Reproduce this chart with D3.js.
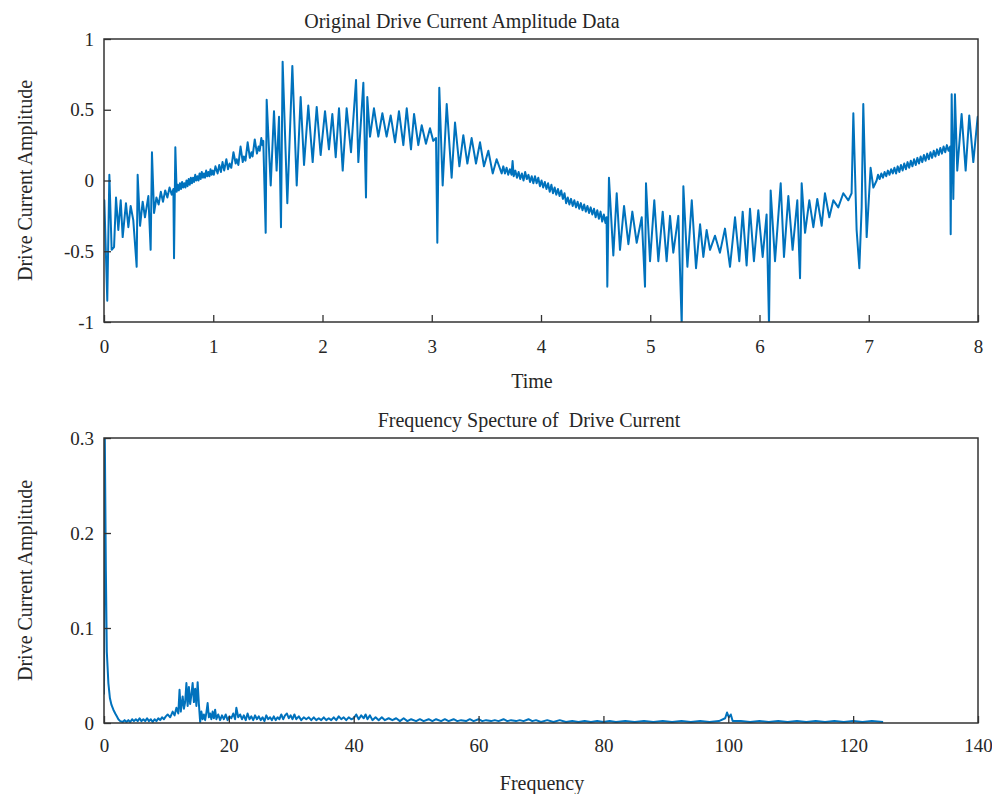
<!DOCTYPE html>
<html lang="en">
<head>
<meta charset="UTF-8">
<title>Drive Current Amplitude</title>
<script src="https://cdnjs.cloudflare.com/ajax/libs/d3/7.8.5/d3.min.js"></script>
<style>
    body { margin: 0; background: #fff; }
    svg text { font-family: "Liberation Serif", "DejaVu Serif", serif; fill: #262626; }
</style>
</head>
<body>
<svg id="chart" width="992" height="794"></svg>
<script>
// time, amplitude pairs
const timeSignal = [
    [0,-0.14],[0.003,-0.14],[0.03,-0.85],[0.049,0.04],[0.07,-0.49],[0.092,-0.47],[0.11,-0.12],[0.131,-0.35],
    [0.153,-0.14],[0.171,-0.40],[0.201,-0.16],[0.223,-0.33],[0.244,-0.18],[0.268,-0.28],[0.299,-0.61],[0.308,0.04],
    [0.33,-0.32],[0.354,-0.15],[0.375,-0.26],[0.406,-0.11],[0.427,-0.49],[0.439,0.20],[0.458,-0.23],[0.48,-0.12],
    [0.50,-0.17],[0.52,-0.08],[0.54,-0.15],[0.56,-0.07],[0.58,-0.12],[0.60,-0.05],[0.62,-0.10],[0.635,-0.06],
    [0.641,-0.55],[0.653,0.235],[0.665,-0.08],[0.675,-0.03],[0.685,-0.07],[0.695,-0.02],[0.705,-0.06],[0.715,-0.01],
    [0.725,-0.05],[0.735,-0.02],[0.745,-0.05],[0.755,0.00],[0.765,-0.04],[0.775,0.01],[0.785,-0.03],[0.795,0.02],
    [0.805,-0.02],[0.815,0.02],[0.825,-0.01],[0.835,0.04],[0.845,0.00],[0.855,0.03],[0.865,0.00],[0.875,0.05],
    [0.885,0.01],[0.895,0.06],[0.905,0.02],[0.915,0.05],[0.925,0.02],[0.935,0.07],[0.945,0.03],[0.955,0.06],
    [0.965,0.03],[0.975,0.08],[0.985,0.04],[0.995,0.07],[1.005,0.04],[1.02,0.10],[1.04,0.05],[1.055,0.11],
    [1.07,0.06],[1.085,0.13],[1.10,0.07],[1.12,0.15],[1.135,0.08],[1.15,0.12],[1.165,0.09],[1.185,0.20],
    [1.205,0.12],[1.215,0.15],[1.23,0.11],[1.25,0.24],[1.27,0.13],[1.28,0.17],[1.295,0.14],[1.315,0.27],
    [1.335,0.16],[1.35,0.20],[1.36,0.17],[1.38,0.29],[1.40,0.19],[1.415,0.24],[1.425,0.21],[1.44,0.30],
    [1.45,0.25],[1.458,0.28],[1.48,-0.37],[1.489,0.57],[1.526,-0.035],[1.556,0.49],[1.58,0.07],
    [1.602,0.45],[1.62,-0.33],[1.635,0.84],[1.678,-0.16],[1.724,0.81],[1.764,-0.035],[1.80,0.59],[1.831,0.11],
    [1.870,0.53],[1.910,0.13],[1.947,0.52],[1.983,0.18],[2.023,0.49],[2.059,0.22],[2.090,0.47],[2.121,0.165],
    [2.151,0.51],[2.185,0.07],[2.221,0.51],[2.261,0.20],[2.307,0.71],[2.328,0.13],[2.374,0.69],[2.398,-0.12],
    [2.410,0.59],[2.435,0.31],[2.471,0.51],[2.511,0.31],[2.548,0.475],[2.587,0.31],[2.624,0.46],[2.664,0.27],
    [2.700,0.49],[2.740,0.25],[2.771,0.51],[2.810,0.22],[2.838,0.47],[2.877,0.25],[2.908,0.39],[2.947,0.26],
    [2.984,0.37],[3.014,0.28],[3.039,0.30],[3.051,-0.44],[3.069,0.655],[3.100,-0.035],[3.137,0.54],[3.182,0.02],
    [3.213,0.41],[3.253,0.10],[3.289,0.32],[3.326,0.12],[3.365,0.30],[3.405,0.12],[3.442,0.27],[3.478,0.10],
    [3.518,0.21],[3.558,0.05],[3.594,0.15],[3.640,0.05],[3.655,0.10],[3.67,0.05],[3.685,0.09],[3.70,0.04],
    [3.715,0.08],[3.73,0.04],[3.74,0.137],[3.75,0.03],[3.765,0.07],[3.78,0.02],[3.795,0.06],[3.81,0.01],
    [3.825,0.05],[3.84,0.00],[3.855,0.06],[3.87,0.01],[3.885,0.04],[3.90,-0.01],[3.915,0.03],[3.93,-0.02],
    [3.945,0.03],[3.96,-0.02],[3.975,0.02],[3.99,-0.04],[4.005,0.00],[4.02,-0.05],[4.035,-0.01],[4.05,-0.06],
    [4.065,-0.02],[4.08,-0.08],[4.095,-0.03],[4.11,-0.09],[4.125,-0.05],[4.14,-0.10],[4.155,-0.06],[4.17,-0.11],
    [4.185,-0.07],[4.20,-0.13],[4.215,-0.09],[4.23,-0.16],[4.245,-0.12],[4.26,-0.17],[4.275,-0.13],[4.29,-0.18],
    [4.305,-0.14],[4.32,-0.19],[4.335,-0.15],[4.35,-0.20],[4.365,-0.16],[4.38,-0.21],[4.395,-0.17],[4.41,-0.22],
    [4.425,-0.18],[4.44,-0.23],[4.455,-0.19],[4.47,-0.24],[4.485,-0.20],[4.50,-0.26],[4.515,-0.21],[4.53,-0.27],
    [4.545,-0.22],[4.56,-0.29],[4.575,-0.24],[4.59,-0.30],[4.60,-0.26],[4.607,-0.75],
    [4.622,0.02],[4.662,-0.53],[4.693,-0.09],[4.723,-0.49],[4.760,-0.18],[4.800,-0.45],[4.836,-0.22],[4.876,-0.44],
    [4.922,-0.26],[4.952,-0.75],[4.961,-0.02],[4.998,-0.57],[5.037,-0.14],[5.074,-0.57],[5.114,-0.22],[5.150,-0.57],
    [5.181,-0.25],[5.211,-0.51],[5.257,-0.25],[5.288,-1.02],[5.303,-0.04],[5.340,-0.61],[5.380,-0.14],[5.419,-0.62],
    [5.456,-0.31],[5.486,-0.54],[5.516,-0.35],[5.547,-0.49],[5.593,-0.39],[5.638,-0.51],[5.684,-0.34],[5.730,-0.61],
    [5.776,-0.26],[5.815,-0.57],[5.846,-0.22],[5.882,-0.60],[5.913,-0.20],[5.949,-0.57],[5.989,-0.21],[6.029,-0.54],
    [6.065,-0.24],[6.087,-1.02],[6.102,-0.07],[6.142,-0.57],[6.194,-0.02],[6.224,-0.54],[6.264,-0.11],[6.303,-0.49],
    [6.346,-0.14],[6.371,-0.69],[6.386,-0.02],[6.417,-0.37],[6.456,-0.14],[6.493,-0.33],[6.529,-0.13],[6.569,-0.32],
    [6.599,-0.09],[6.639,-0.26],[6.676,-0.14],[6.721,-0.19],[6.767,-0.09],[6.813,-0.14],[6.843,-0.09],[6.859,0.475],
    [6.889,-0.35],[6.914,-0.62],[6.935,-0.19],[6.950,0.54],[6.981,-0.40],[7.017,0.09],[7.042,-0.05],[7.072,0.00],
    [7.085,0.04],[7.10,0.01],[7.115,0.05],[7.13,0.02],[7.145,0.06],[7.16,0.03],[7.175,0.07],[7.19,0.04],
    [7.205,0.08],[7.22,0.05],[7.235,0.09],[7.25,0.05],[7.265,0.10],[7.28,0.06],[7.295,0.11],[7.31,0.07],
    [7.325,0.12],[7.34,0.08],[7.355,0.13],[7.37,0.09],[7.385,0.14],[7.40,0.10],[7.415,0.15],[7.43,0.11],
    [7.445,0.16],[7.46,0.12],[7.475,0.17],[7.49,0.13],[7.505,0.18],[7.52,0.14],[7.535,0.19],[7.55,0.15],
    [7.565,0.20],[7.58,0.16],[7.595,0.21],[7.61,0.17],[7.625,0.22],[7.64,0.18],[7.655,0.23],[7.67,0.19],
    [7.685,0.24],[7.70,0.20],[7.715,0.25],[7.73,0.21],[7.745,0.24],[7.750,-0.38],
    [7.759,0.61],[7.774,-0.13],[7.789,0.61],[7.810,0.07],[7.850,0.47],[7.887,0.07],[7.920,0.46],[7.957,0.13],
    [7.997,0.45],[8.0,0.40]
];

// frequency, amplitude pairs
const freqSpectrum = [
    [0,0.03],[0.12,0.31],[0.3,0.16],[0.45,0.075],[0.7,0.042],[0.95,0.026],[1.2,0.019],[1.5,0.014],[1.8,0.010],
    [2.05,0.007],[2.3,0.004],[2.6,0.002],[3.0,0.001],[3.3,0.003],[3.6,0.001],[3.9,0.003],[4.2,0.001],[4.5,0.004],
    [4.8,0.002],[5.1,0.004],[5.4,0.002],[5.7,0.005],[6.0,0.002],[6.3,0.004],[6.6,0.002],[6.9,0.005],[7.2,0.002],
    [7.5,0.004],[7.8,0.001],[8.1,0.004],[8.4,0.002],[8.7,0.005],[9.0,0.003],[9.3,0.006],[9.6,0.004],[9.9,0.007],
    [10.2,0.009],[10.6,0.006],[11.0,0.012],[11.3,0.008],[11.6,0.016],[11.9,0.010],
    [12.1,0.035],[12.3,0.012],[12.6,0.028],[12.8,0.015],[13.0,0.022],[13.2,0.042],[13.4,0.018],[13.6,0.038],[13.8,0.020],
    [14.0,0.030],[14.2,0.042],[14.4,0.022],[14.6,0.036],[14.8,0.018],[15.0,0.043],[15.2,0.020],[15.4,0.001],[15.6,0.012],
    [15.8,0.004],[16.0,0.009],[16.2,0.003],[16.4,0.011],[16.6,0.021],[16.8,0.006],[17.0,0.010],[17.2,0.004],[17.4,0.012],
    [17.6,0.005],[17.8,0.014],[18.0,0.004],[18.3,0.009],[18.6,0.003],[18.9,0.008],[19.2,0.004],[19.5,0.009],[19.8,0.003],
    [20.1,0.007],[20.4,0.005],[20.7,0.010],[21.0,0.004],[21.2,0.016],[21.5,0.006],[21.8,0.009],[22.1,0.004],[22.4,0.008],
    [22.7,0.003],[23.0,0.010],[23.3,0.004],[23.6,0.007],[23.9,0.003],[24.2,0.008],[24.5,0.004],[24.8,0.007],[25.1,0.003],
    [25.4,0.006],[25.7,0.002],[26.0,0.008],[26.3,0.004],[26.6,0.006],[26.9,0.003],[27.2,0.007],[27.5,0.003],[27.8,0.006],
    [28.1,0.004],[28.4,0.009],[28.7,0.004],[29.0,0.008],[29.3,0.010],[29.6,0.005],[29.9,0.008],[30.2,0.004],[30.5,0.009],
    [30.8,0.004],[31.2,0.007],[31.6,0.003],[32.0,0.006],[32.4,0.004],[32.8,0.006],[33.2,0.003],[33.6,0.006],[34.0,0.003],
    [34.4,0.005],[34.8,0.003],[35.2,0.006],[35.6,0.003],[36.0,0.005],[36.4,0.003],[36.8,0.006],[37.2,0.003],[37.6,0.007],
    [38.0,0.004],[38.4,0.006],[38.8,0.003],[39.2,0.006],[39.6,0.004],[40.0,0.005],[40.4,0.009],[40.8,0.004],[41.2,0.008],
    [41.6,0.005],[41.9,0.009],[42.2,0.004],[42.6,0.008],[43.0,0.003],[43.5,0.006],[44.0,0.003],[44.5,0.006],[45.0,0.003],
    [45.6,0.005],[46.2,0.003],[46.8,0.005],[47.4,0.002],[48,0.005],[48.6,0.002],[49.2,0.004],[50,0.002],[50.6,0.004],
    [51.2,0.002],[52,0.004],[52.6,0.002],[53.2,0.004],[54,0.002],[54.6,0.004],[55.2,0.002],[56,0.004],[56.6,0.002],
    [57.2,0.003],[58,0.002],[58.6,0.004],[59.2,0.002],[60,0.004],[60.6,0.002],[61.2,0.003],[62,0.002],[62.6,0.003],
    [63.2,0.002],[64,0.004],[64.6,0.002],[65.2,0.003],[66,0.002],[66.6,0.003],[67.2,0.002],[68,0.004],[68.6,0.002],
    [69.2,0.003],[70,0.001],[71,0.003],[72,0.001],[73,0.003],[74,0.001],[75,0.002],[76,0.001],[77,0.002],
    [78,0.001],[79,0.002],[80,0.001],[81,0.002],[82,0.001],[83.5,0.002],[85,0.001],[86.5,0.002],[88,0.001],
    [89.5,0.002],[91,0.001],[92.5,0.002],[94,0.001],[95.5,0.002],[97,0.001],[98.5,0.002],[99.5,0.005],[99.8,0.011],
    [100.1,0.006],[100.4,0.009],[100.7,0.002],[102,0.002],[103.5,0.001],[105,0.002],[106.5,0.001],[108,0.002],[109.5,0.001],
    [111,0.002],[112.5,0.001],[114,0.002],[115.5,0.001],[117,0.002],[118.5,0.001],[120,0.002],[121.5,0.001],[123,0.002],
    [124.8,0.001]
];

const timeTicks = [0, 1, 2, 3, 4, 5, 6, 7, 8];
const ampTicks = [-1, -0.5, 0, 0.5, 1];
const freqTicks = [0, 20, 40, 60, 80, 100, 120, 140];
const specTicks = [0, 0.1, 0.2, 0.3];

const lineColor = "#0072BD";
const axisColor = "#333";

const svg = d3.select("#chart");

function drawPanel(cfg) {
    const { top, bottom, left, right } = cfg;
    const x = d3.scaleLinear().domain(cfg.xDomain).range([left, right]);
    const y = d3.scaleLinear().domain(cfg.yDomain).range([bottom, top]);

    svg.append("clipPath").attr("id", cfg.id)
        .append("rect")
        .attr("x", left).attr("y", top)
        .attr("width", right - left).attr("height", bottom - top);

    const line = d3.line().x(d => x(d[0])).y(d => y(d[1]));
    svg.append("path")
        .datum(cfg.data)
        .attr("clip-path", `url(#${cfg.id})`)
        .attr("fill", "none")
        .attr("stroke", lineColor)
        .attr("stroke-width", 2)
        .attr("stroke-linejoin", "round")
        .attr("d", line);

    // bottom & left axes, ticks pointing inward
    const xAxis = svg.append("g")
        .attr("transform", `translate(0,${bottom})`)
        .call(d3.axisBottom(x).tickValues(cfg.xTicks).tickSize(-7).tickPadding(cfg.xPad).tickFormat(d => String(d)));
    const yAxis = svg.append("g")
        .attr("transform", `translate(${left},0)`)
        .call(d3.axisLeft(y).tickValues(cfg.yTicks).tickSize(-7).tickPadding(10).tickFormat(d => String(d)));

    [xAxis, yAxis].forEach(g => {
        g.select(".domain").remove();
        g.selectAll("line").attr("stroke", axisColor).attr("stroke-width", 1.3);
        g.selectAll("text").attr("font-size", 19).attr("fill", "#262626")
            .attr("font-family", "Liberation Serif, serif");
    });

    // box
    svg.append("rect")
        .attr("x", left).attr("y", top)
        .attr("width", right - left).attr("height", bottom - top)
        .attr("fill", "none").attr("stroke", axisColor).attr("stroke-width", 1.5);

    svg.append("text")
        .attr("x", cfg.titleX).attr("y", top - 11)
        .attr("text-anchor", "middle")
        .attr("font-size", 20)
        .style("white-space", "pre")
        .text(cfg.title);

    svg.append("text")
        .attr("x", cfg.xLabelX).attr("y", cfg.xLabelY)
        .attr("text-anchor", "middle")
        .attr("font-size", 20)
        .text(cfg.xLabel);

    svg.append("text")
        .attr("transform", `translate(32,${(top + bottom) / 2}) rotate(-90)`)
        .attr("text-anchor", "middle")
        .attr("font-size", 20)
        .text(cfg.yLabel);
}

drawPanel({
    id: "clipTop", top: 39, bottom: 322, left: 104, right: 978,
    xDomain: [0, 8], yDomain: [-1, 1], xTicks: timeTicks, yTicks: ampTicks, xPad: 18,
    data: timeSignal,
    title: "Original Drive Current Amplitude Data", titleX: 462,
    xLabel: "Time", xLabelX: 532, xLabelY: 388,
    yLabel: "Drive Current Amplitude"
});

drawPanel({
    id: "clipBottom", top: 438, bottom: 723, left: 104, right: 978,
    xDomain: [0, 140], yDomain: [0, 0.3], xTicks: freqTicks, yTicks: specTicks, xPad: 16,
    data: freqSpectrum,
    title: "Frequency Specture of  Drive Current", titleX: 529,
    xLabel: "Frequency", xLabelX: 542, xLabelY: 790,
    yLabel: "Drive Current Amplitude"
});
</script>
</body>
</html>
